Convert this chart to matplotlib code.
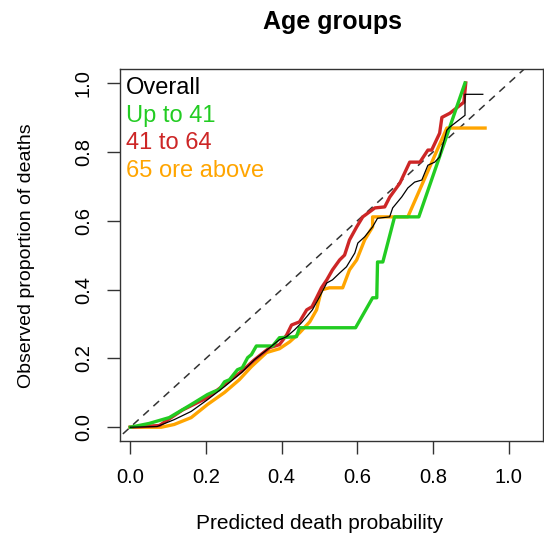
import matplotlib
matplotlib.use("Agg")
import matplotlib.pyplot as plt

plt.rcParams['font.family'] = ['Liberation Sans', 'DejaVu Sans']

# calibration curves: predicted probability vs observed proportion
overall_x = [0, 0.071, 0.116, 0.161, 0.204, 0.249, 0.294, 0.328, 0.368, 0.394, 0.413,
             0.434, 0.452, 0.466, 0.481, 0.500, 0.519, 0.534, 0.553, 0.571, 0.593,
             0.601, 0.619, 0.640, 0.653, 0.685, 0.693, 0.717, 0.733, 0.751, 0.770,
             0.786, 0.804, 0.817, 0.836, 0.844, 0.884, 0.884, 0.931]
overall_y = [0, 0.002, 0.022, 0.046, 0.080, 0.118, 0.159, 0.196, 0.231, 0.254, 0.263,
             0.283, 0.303, 0.321, 0.341, 0.379, 0.419, 0.428, 0.448, 0.466, 0.506,
             0.535, 0.553, 0.582, 0.607, 0.611, 0.637, 0.669, 0.695, 0.712, 0.718,
             0.761, 0.770, 0.785, 0.863, 0.872, 0.906, 0.967, 0.967]

young_x = [0, 0.050, 0.103, 0.161, 0.204, 0.222, 0.235, 0.249, 0.262, 0.283, 0.296,
           0.310, 0.320, 0.333, 0.376, 0.394, 0.439, 0.447, 0.595, 0.640, 0.651,
           0.653, 0.667, 0.698, 0.762, 0.884]
young_y = [0, 0.011, 0.028, 0.066, 0.095, 0.104, 0.109, 0.132, 0.138, 0.167, 0.173,
           0.202, 0.211, 0.236, 0.236, 0.260, 0.263, 0.289, 0.289, 0.376, 0.376,
           0.480, 0.480, 0.611, 0.611, 1.0]

middle_x = [0, 0.077, 0.138, 0.204, 0.249, 0.294, 0.328, 0.368, 0.394, 0.413, 0.426,
            0.447, 0.466, 0.480, 0.492, 0.505, 0.519, 0.534, 0.553, 0.566, 0.579,
            0.598, 0.614, 0.646, 0.672, 0.685, 0.712, 0.738, 0.765, 0.786, 0.796,
            0.817, 0.823, 0.844, 0.881, 0.886]
middle_y = [0, 0.005, 0.050, 0.086, 0.124, 0.162, 0.196, 0.231, 0.240, 0.268, 0.297,
            0.306, 0.341, 0.350, 0.376, 0.405, 0.428, 0.457, 0.486, 0.500, 0.544,
            0.582, 0.611, 0.637, 0.640, 0.668, 0.709, 0.770, 0.770, 0.805, 0.805,
            0.854, 0.900, 0.912, 0.944, 1.0]

old_x = [0, 0.082, 0.116, 0.161, 0.204, 0.249, 0.288, 0.320, 0.360, 0.394, 0.421,
         0.447, 0.474, 0.492, 0.505, 0.526, 0.561, 0.579, 0.598, 0.619, 0.640,
         0.640, 0.733, 0.836, 0.937]
old_y = [0, 0.0, 0.008, 0.028, 0.066, 0.101, 0.138, 0.176, 0.217, 0.228, 0.248,
         0.274, 0.306, 0.341, 0.399, 0.405, 0.405, 0.457, 0.486, 0.544, 0.582,
         0.611, 0.611, 0.869, 0.869]

labels = ["Overall", "Up to 41", "41 to 64", "65 ore above"]
colors = ["black", "#22CC22", "#CD2626", "#FFA500"]

fig = plt.figure(figsize=(5.44, 5.35), dpi=100)
ax = fig.add_axes([0.2206, 0.1757, 0.7776, 0.695])

ax.plot([-0.1, 1.2], [-0.1, 1.2], color="#333333", lw=1.1, ls=(0, (5, 4)))
ax.plot(old_x, old_y, color=colors[3], lw=2.4)
ax.plot(middle_x, middle_y, color=colors[2], lw=2.4)
ax.plot(young_x, young_y, color=colors[1], lw=2.4)
ax.plot(overall_x, overall_y, color=colors[0], lw=0.9)

ax.set_xlim(-0.027, 1.09)
ax.set_ylim(-0.04, 1.04)
ticks = [0.0, 0.2, 0.4, 0.6, 0.8, 1.0]
ax.set_xticks(ticks)
ax.set_yticks(ticks)
ax.set_xticklabels(["%.1f" % t for t in ticks])
ax.set_yticklabels(["%.1f" % t for t in ticks], rotation=90, va="center")
ax.tick_params(length=9.5, width=1, labelsize=14.5, pad=10, color="#333333")
for s in ax.spines.values():
    s.set_linewidth(1)
    s.set_color("#333333")

# legend as coloured text in the top-left corner
for i, (lab, c) in enumerate(zip(labels, colors)):
    ax.text(-0.011, 0.985 - i * 0.08, lab, color=c, fontsize=17,
            va="center", ha="left")

fig.text(0.611, 0.959, "Age groups", fontsize=18, fontweight="bold",
         ha="center", va="center")
fig.text(0.588, 0.021, "Predicted death probability", fontsize=15,
         ha="center", va="center")
fig.text(0.048, 0.523, "Observed proportion of deaths", fontsize=14,
         ha="center", va="center", rotation=90)

fig.savefig("out.png", dpi=100)
